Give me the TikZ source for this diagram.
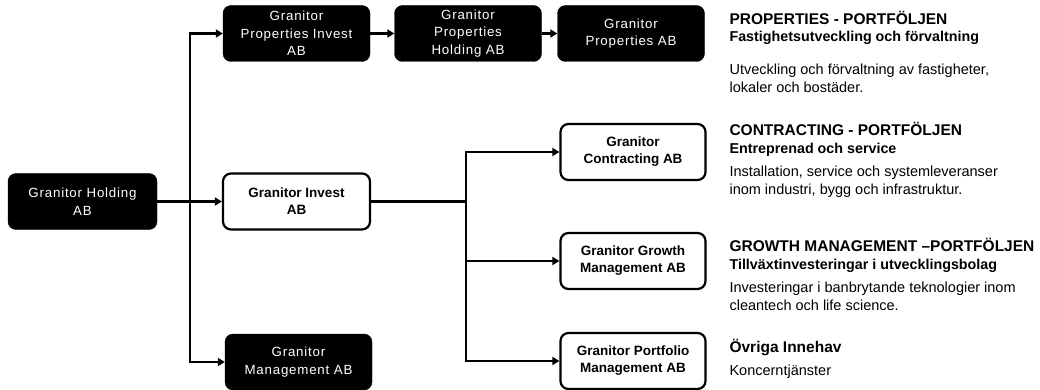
\documentclass[tikz,border=0pt]{standalone}
\usepackage{fontspec}
\setmainfont{Liberation Sans}
\newfontfamily\boxfont[LetterSpace=6]{Liberation Sans}
\usetikzlibrary{arrows.meta,calc}

\tikzset{
	darkbox/.style={draw=black, fill=black, text=white, rounded corners=8pt,
		minimum width=147pt, minimum height=56pt, align=center,
		font=\boxfont\fontsize{13.3}{17.5}\selectfont},
	lightbox/.style={draw=black, line width=2.2pt, fill=white, rounded corners=8pt,
		minimum width=145pt, minimum height=56pt, align=center,
		font=\bfseries\fontsize{13.5}{17}\selectfont},
	hdtext/.style={anchor=base west, font=\bfseries\fontsize{15.5}{18}\selectfont},
	subtext/.style={anchor=base west, font=\bfseries\fontsize{14.3}{17}\selectfont},
	bodytext/.style={anchor=base west, align=left, font=\fontsize{14.5}{18}\selectfont},
	link/.style={line width=2.2pt, -{Triangle[length=7pt,width=8pt]}}
}

\begin{document}
\begin{tikzpicture}[x=1pt,y=-1pt]
	
	\useasboundingbox (0,0) rectangle (1040,390);
	
	\node[darkbox, minimum width=149pt] (hold) at (82.5,201.5) {Granitor Holding\\AB};
	\node[darkbox] (pinv) at (296.5,33.5) {Granitor\\Properties Invest\\AB};
	\node[darkbox] (phold) at (468,33.5) {Granitor\\Properties\\Holding AB};
	\node[darkbox] (prop) at (631,33.5) {Granitor\\Properties AB};
	\node[lightbox, minimum width=147pt] (inv) at (296.5,201.5) {Granitor Invest\\AB};
	\node[darkbox] (mgmt) at (298.5,362) {Granitor\\Management AB};
	\node[lightbox] (contr) at (633,152) {Granitor\\Contracting AB};
	\node[lightbox] (growth) at (633,261) {Granitor Growth\\Management AB};
	\node[lightbox] (portf) at (633,361) {Granitor Portfolio\\Management AB};
	
	\coordinate (split1) at (190,201.5);
	\coordinate (split2) at (466,201.5);
	
	\draw[link] (hold.east) -- (inv.west);
	\draw[link] (split1) |- (pinv.west);
	\draw[link] (split1) |- (mgmt.west);
	\draw[link] (pinv.east) -- (phold.west);
	\draw[link] (phold.east) -- (prop.west);
	\draw[line width=2.2pt] (inv.east) -- (split2);
	\draw[link] (split2) |- (contr.west);
	\draw[link] (split2) |- (growth.west);
	\draw[link] (split2) |- (portf.west);
	
	\node[hdtext] (hdprop) at (726,24.5) {PROPERTIES - PORTFÖLJEN};
	\node[subtext] (subprop) at (726,41.5) {Fastighetsutveckling och förvaltning};
	\node[bodytext] (txtprop) at (726,93) {Utveckling och förvaltning av fastigheter,\\lokaler och bostäder.};
	
	\node[hdtext] (hdcontr) at (726,135.5) {CONTRACTING - PORTFÖLJEN};
	\node[subtext] (subcontr) at (726,153.5) {Entreprenad och service};
	\node[bodytext] (txtcontr) at (726,194) {Installation, service och systemleveranser\\inom industri, bygg och infrastruktur.};
	
	\node[hdtext] (hdgrowth) at (726,251) {GROWTH MANAGEMENT –PORTFÖLJEN};
	\node[subtext] (subgrowth) at (726,269) {Tillväxtinvesteringar i utvecklingsbolag};
	\node[bodytext] (txtgrowth) at (726,310) {Investeringar i banbrytande teknologier inom\\cleantech och life science.};
	
	\node[hdtext] (hdother) at (726,352) {Övriga Innehav};
	\node[bodytext] (txtother) at (726,375) {Koncerntjänster};
	
\end{tikzpicture}
\end{document}
